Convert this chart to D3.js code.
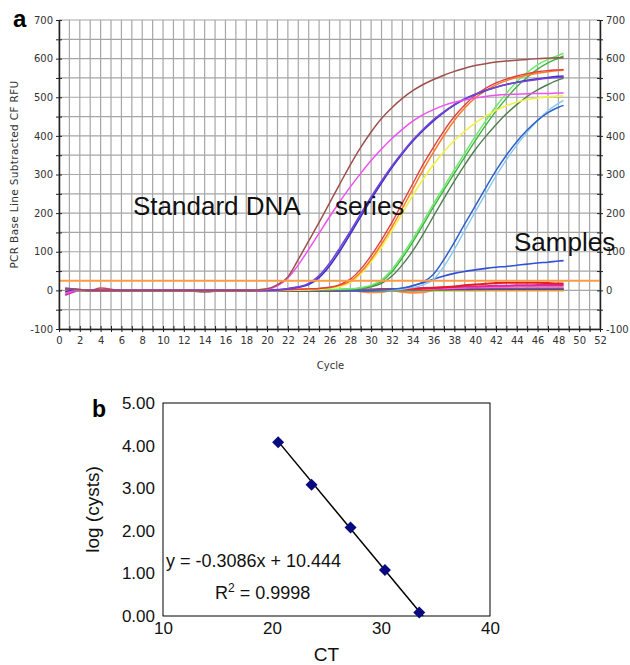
<!DOCTYPE html>
<html><head><meta charset="utf-8">
<script src="https://cdn.jsdelivr.net/npm/d3@7"></script>
<style>body{margin:0;background:#fff} svg{display:block}</style>
</head><body>
<svg id="c" width="630" height="665"></svg>
<script>
// ---------- Panel a data ----------
const cycles = [0.6,2,3,4,6,8,10,12,14,16,18,19,20,21,22,23,24,25,26,27,28,29,30,31,32,33,34,35,36,37,38,39,40,41,42,43,44,45,46,47,48,48.5];
// standards
const brown      = [3,2,0,0,0,0,0,0,-1,0,0,1, 4,15,35,80,128,176,226,276,325,370, 410,445,473,497,517,533,546,557,567,575, 582,587,591,594,596,598,600,601,602,602];
const magenta    = [-8,1,0,0,0,0,0,0,0,0,0,1, 3,12,32,66,106,148,190,230,268,303, 336,366,393,417,438,455,468,479,487,493, 498,502,505,507,508,509,510,510,511,511];
const purple     = [6,2,0,0,0,0,0,0,0,0,0,0, 1,2,5,9,18,38,70,110,153,198, 242,283,322,357,389,417,442,463,481,496, 508,518,526,533,538,542,546,549,551,552];
const violet     = [-3,1,0,0,0,0,0,0,0,0,0,0, 0,1,4,8,15,33,63,102,146,191, 236,278,318,354,386,414,439,461,480,495, 507,517,526,533,539,544,548,551,554,555];
const orange     = [4,1,0,0,0,0,0,0,0,0,0,0, 0,1,2,3,4,5,7,13,24,47, 80,120,164,212,262,312,358,401,440,472, 498,517,532,543,551,557,562,566,569,570];
const red        = [2,0,0,6,0,0,0,0,0,0,0,0, 0,1,2,3,4,5,8,15,29,55, 90,131,176,226,276,326,371,413,450,480, 505,523,537,547,555,561,566,569,571,572];
const yellow     = [0,0,0,0,0,0,0,0,0,0,0,0, 0,0,1,1,2,3,5,10,20,42, 74,112,155,200,246,288,326,359,388,412, 433,451,466,478,487,494,498,501,503,503];
const lightGreen = [0,0,0,0,0,0,0,0,0,0,0,0, 0,0,0,1,1,2,2,3,4,7, 13,27,54,91,133,178,224,268,312,355, 398,438,476,510,540,564,584,598,608,614];
const green      = [0,0,0,0,0,0,0,0,0,0,0,0, 0,0,0,0,1,1,2,2,3,6, 11,23,48,84,125,170,216,260,303,345, 387,427,464,497,527,552,573,589,601,607];
const darkGreen  = [0,0,0,0,0,0,0,0,0,0,0,0, 0,0,0,0,0,1,1,2,3,5, 9,18,37,66,102,145,192,238,283,325, 364,398,429,457,481,502,519,533,545,549];
const blue       = [-3,0,0,0,0,0,0,0,0,0,0,0, 0,0,0,0,0,0,0,0,0,0, 0,1,3,6,12,22,42,80,124,172, 218,265,310,350,385,415,440,460,474,479];
const lightBlue  = [0,0,0,0,0,0,0,0,0,0,0,0, 0,0,0,0,0,0,0,0,0,0, 0,0,1,3,7,14,28,62,106,155, 203,250,296,338,376,410,440,465,484,492];
// samples
const sampleBlue    = [-4,0,0,0,0,0,0,0,0,0,0,0, 0,0,0,0,0,0,0,0,0,0, 0,0,2,5,12,20,29,37,44,49, 53,57,60,62,65,68,71,73,76,77];
const sampleRed     = [1,0,0,0,0,0,0,0,0,0,0,0, 0,0,0,0,0,0,0,0,1,1, 1,2,2,3,4,5,6,8,10,13, 15,17,19,20,20,20,20,19,18,18];
const sampleMagenta = [-12,0,0,0,0,0,0,0,0,0,0,0, 0,0,0,0,0,0,0,0,0,0, 1,2,3,4,5,6,7,8,9,10, 10,11,12,12,13,13,14,14,14,14];
const samplePink    = [2,0,0,0,0,0,0,0,0,0,0,0, 0,0,0,0,0,0,0,0,0,1, 1,1,2,2,3,3,4,5,6,7, 8,8,9,9,10,10,10,10,10,10];
const sampleGreen   = [0,0,0,0,0,0,0,0,0,0,0,0, 0,0,0,0,0,0,0,0,0,0, 0,0,0,0,0,1,1,1,2,2, 3,3,4,4,4,5,5,5,5,5];
const sampleOlive   = [0,0,0,0,0,0,0,0,0,0,0,0, 0,0,0,0,0,0,0,0,0,0, 0,0,0,0,0,0,1,1,1,1, 2,2,2,2,2,2,2,2,2,2];
const sampleMaroon  = [3,1,0,0,0,0,0,0,-3,0,0,0, 0,0,0,0,0,0,0,1,1,2, 2,3,3,3,3,3,3,3,3,3, 4,4,4,4,4,4,4,4,4,4];
const sampleOrange  = [0,0,0,0,0,0,0,0,0,0,0,0, 0,0,0,0,0,0,0,0,0,-3, -5,-4,0,-4,-6,-5,0,0,0,0, 0,0,0,0,0,0,0,0,0,0];
const samplePurple  = [5,1,0,0,0,0,0,0,0,0,0,0, 0,0,0,0,0,0,0,0,0,0, 0,1,1,2,2,2,3,3,3,3, 3,3,3,3,3,3,3,3,3,3];
const threshold = 25;
const yTicksA = d3.range(-100, 701, 50);
const xTicksA = d3.range(0, 53, 1);

// ---------- Panel b data ----------
const ctValues = [20.56, 23.63, 27.21, 30.36, 33.51];
const logCysts = [4.08, 3.08, 2.08, 1.08, 0.08];
const fitSlope = -0.3086, fitIntercept = 10.444;
const fitRange = [20.56, 33.85];
const xTicksB = [10, 20, 30, 40];
const yTicksB = [0, 1, 2, 3, 4, 5];

const series = [
  {v: sampleMaroon, c: "#7a1f3a", w: 2},
  {v: sampleOrange, c: "#ff8a3c", w: 2},
  {v: sampleOlive, c: "#b5b53a", w: 2},
  {v: sampleGreen, c: "#3fae2a", w: 2},
  {v: samplePurple, c: "#7a2fa8", w: 1.6},
  {v: samplePink, c: "#ff5fd0", w: 2},
  {v: sampleMagenta, c: "#d42a9a", w: 2},
  {v: sampleRed, c: "#e81c1c", w: 2},
  {v: sampleBlue, c: "#3050d8", w: 1.6},
  {v: lightBlue, c: "#86c8f0", w: 1.4},
  {v: blue, c: "#3160cc", w: 1.5},
  {v: darkGreen, c: "#4e7f4e", w: 1.4},
  {v: green, c: "#3cb43c", w: 1.4},
  {v: lightGreen, c: "#6aea6a", w: 1.5},
  {v: yellow, c: "#f2f240", w: 1.6},
  {v: orange, c: "#ff7a22", w: 1.5},
  {v: red, c: "#e04040", w: 1.4},
  {v: violet, c: "#3a30c2", w: 1.6},
  {v: purple, c: "#7444d8", w: 1.6},
  {v: magenta, c: "#f050f0", w: 1.5},
  {v: brown, c: "#a0504c", w: 1.5}
];

const svg = d3.select("#c");
const gray = "#333";

// ===== Panel a =====
const xA = d3.scaleLinear([0, 52], [59, 600]);
const yA = d3.scaleLinear([-100, 700], [329, 20]);
const ga = svg.append("g");

ga.append("g").selectAll("line").data(xTicksA).join("line")
  .attr("x1", d => xA(d)).attr("x2", d => xA(d))
  .attr("y1", yA(700)).attr("y2", yA(-100))
  .attr("stroke", "#a6a6a6").attr("stroke-width", 1.2);
ga.append("g").selectAll("line").data(yTicksA).join("line")
  .attr("x1", xA(0)).attr("x2", xA(52))
  .attr("y1", d => yA(d)).attr("y2", d => yA(d))
  .attr("stroke", "#a6a6a6").attr("stroke-width", 1.2);

svg.append("defs").append("clipPath").attr("id", "clipA")
  .append("rect").attr("x", xA(0)).attr("y", yA(700))
  .attr("width", xA(52) - xA(0)).attr("height", yA(-100) - yA(700));

const line = d3.line().x((d, i) => xA(cycles[i])).y(d => yA(d)).curve(d3.curveMonotoneX);
const curves = ga.append("g").attr("clip-path", "url(#clipA)");
curves.selectAll("path").data(series).join("path")
  .attr("d", d => line(d.v)).attr("fill", "none")
  .attr("stroke", d => d.c).attr("stroke-width", d => d.w);
curves.append("line")
  .attr("x1", xA(0)).attr("x2", xA(52))
  .attr("y1", yA(threshold)).attr("y2", yA(threshold))
  .attr("stroke", "#ff9a45").attr("stroke-width", 2);

function styleAxis(g) {
  g.select(".domain").attr("stroke", "#222").attr("stroke-width", 1.5);
  g.selectAll(".tick line").attr("stroke", "#222");
  g.selectAll("text").attr("fill", gray).style("font-family", "DejaVu Sans").style("font-size", "10px");
}
const fmtY = d => (d % 100 === 0 ? d : "");
const axL = ga.append("g").attr("transform", `translate(${xA(0)},0)`)
  .call(d3.axisLeft(yA).tickValues(yTicksA).tickFormat(fmtY).tickSizeOuter(0).tickSizeInner(3).tickPadding(3));
axL.selectAll(".tick line").attr("x1", 3);
styleAxis(axL);
const axR = ga.append("g").attr("transform", `translate(${xA(52)},0)`)
  .call(d3.axisRight(yA).tickValues(yTicksA).tickFormat(fmtY).tickSizeOuter(0).tickSizeInner(3).tickPadding(3));
axR.selectAll(".tick line").attr("x1", -3);
styleAxis(axR);
const axB = ga.append("g").attr("transform", `translate(0,${yA(-100)})`)
  .call(d3.axisBottom(xA).tickValues(xTicksA).tickFormat(d => (d % 2 === 0 ? d : "")).tickSizeOuter(0).tickSizeInner(3).tickPadding(5));
axB.selectAll(".tick line").attr("y1", -3);
styleAxis(axB);

ga.append("text").attr("transform", `translate(18,${(yA(700)+yA(-100))/2}) rotate(-90)`)
  .attr("text-anchor", "middle").attr("fill", gray)
  .style("font-family", "DejaVu Sans").style("font-size", "10.5px").style("letter-spacing", "0.35px")
  .text("PCR Base Line Subtracted CF RFU");
ga.append("text").attr("x", (xA(0)+xA(52))/2 + 1).attr("y", 369)
  .attr("text-anchor", "middle").attr("fill", gray)
  .style("font-family", "DejaVu Sans").style("font-size", "10px").text("Cycle");

const big = {family: "Liberation Sans, Arial, sans-serif", size: "26px"};
[["Standard DNA", 133, 215], ["series", 335, 215], ["Samples", 514, 251]].forEach(([t, x, y]) => {
  ga.append("text").attr("x", x).attr("y", y).attr("fill", "#111")
    .style("font-family", big.family).style("font-size", big.size).text(t);
});
svg.append("text").attr("x", 13).attr("y", 27).attr("fill", "#000")
  .style("font-family", big.family).style("font-size", "24px").style("font-weight", "bold").text("a");

// ===== Panel b =====
const xB = d3.scaleLinear([10, 40], [163, 490]);
const yB = d3.scaleLinear([0, 5], [616, 403]);
const gb = svg.append("g");
gb.append("rect").attr("x", xB(10)).attr("y", yB(5))
  .attr("width", xB(40) - xB(10)).attr("height", yB(0) - yB(5))
  .attr("fill", "none").attr("stroke", "#000").attr("stroke-width", 1);

const fontB = "Liberation Sans, Arial, sans-serif";
const axBL = gb.append("g").attr("transform", `translate(${xB(10)},0)`)
  .call(d3.axisLeft(yB).tickValues(yTicksB).tickFormat(d3.format(".2f")).tickSize(0).tickPadding(8));
axBL.select(".domain").remove();
axBL.selectAll("text").attr("fill", "#111").style("font-family", fontB).style("font-size", "17px");
const axBB = gb.append("g").attr("transform", `translate(0,${yB(0)})`)
  .call(d3.axisBottom(xB).tickValues(xTicksB).tickFormat(d3.format("d")).tickSize(0).tickPadding(6));
axBB.select(".domain").remove();
axBB.selectAll("text").attr("fill", "#111").style("font-family", fontB).style("font-size", "17px");

gb.append("line")
  .attr("x1", xB(fitRange[0])).attr("y1", yB(fitSlope * fitRange[0] + fitIntercept))
  .attr("x2", xB(fitRange[1])).attr("y2", yB(fitSlope * fitRange[1] + fitIntercept))
  .attr("stroke", "#000").attr("stroke-width", 1.5);

gb.selectAll("path.pt").data(ctValues).join("path").attr("class", "pt")
  .attr("d", d3.symbol(d3.symbolSquare, 72))
  .attr("transform", (d, i) => `translate(${xB(d)},${yB(logCysts[i])}) rotate(45)`)
  .attr("fill", "#0a0a80");

gb.append("text").attr("x", 166).attr("y", 567).attr("fill", "#111")
  .style("font-family", fontB).style("font-size", "18px").text("y = -0.3086x + 10.444");
const r2 = gb.append("text").attr("x", 215).attr("y", 599).attr("fill", "#111")
  .style("font-family", fontB).style("font-size", "18px");
r2.append("tspan").text("R");
r2.append("tspan").attr("dy", -7).style("font-size", "12px").text("2");
r2.append("tspan").attr("dy", 7).text(" = 0.9998");

gb.append("text").attr("transform", `translate(99,${(yB(0)+yB(5))/2}) rotate(-90)`)
  .attr("text-anchor", "middle").attr("fill", "#111")
  .style("font-family", fontB).style("font-size", "19px").text("log (cysts)");
gb.append("text").attr("x", (xB(10)+xB(40))/2).attr("y", 661).attr("text-anchor", "middle")
  .attr("fill", "#111").style("font-family", fontB).style("font-size", "19px").text("CT");
svg.append("text").attr("x", 92).attr("y", 417).attr("fill", "#000")
  .style("font-family", fontB).style("font-size", "23px").style("font-weight", "bold").text("b");
</script>
</body></html>
